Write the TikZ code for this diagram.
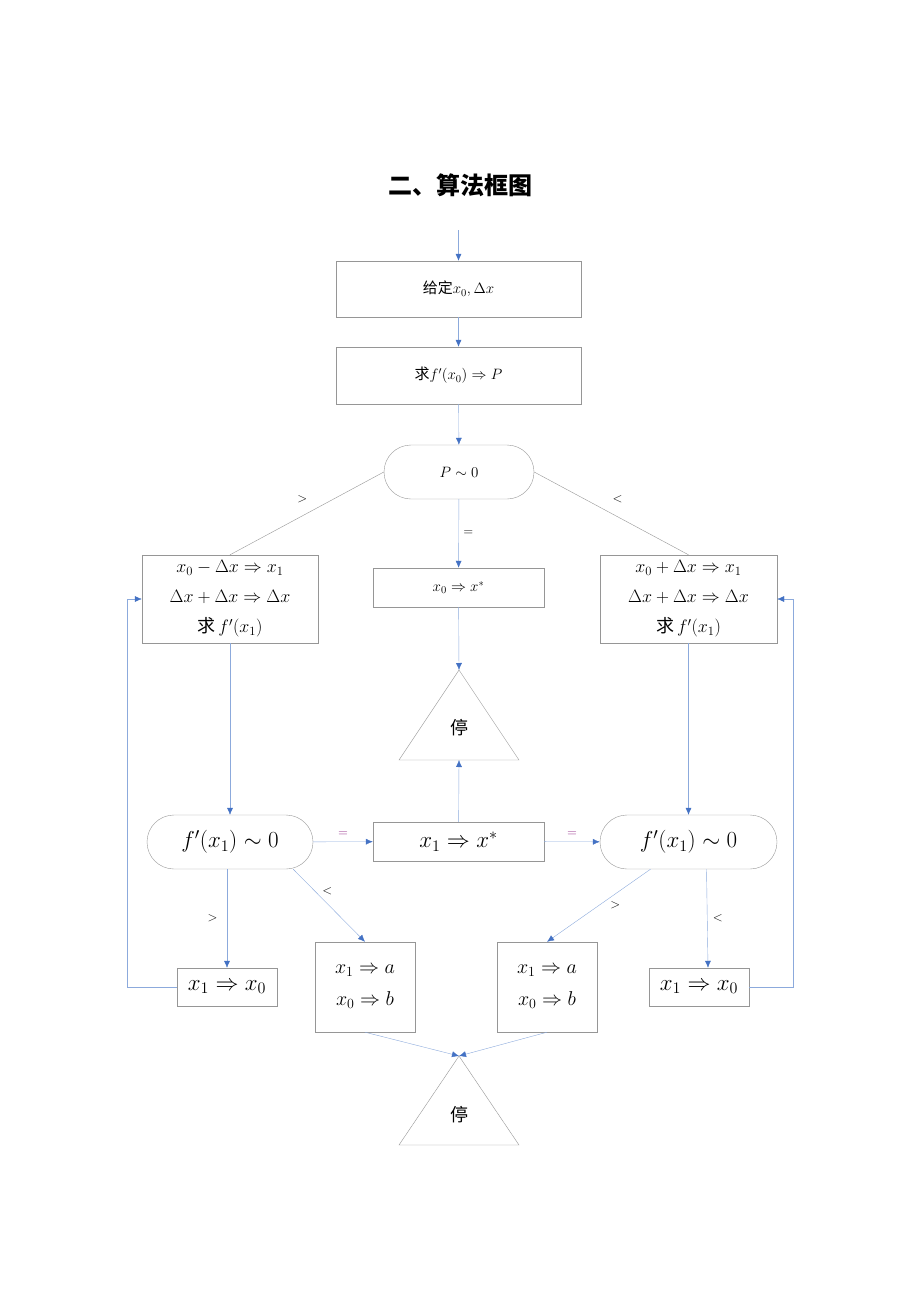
\RequirePackage{fix-cm}
\documentclass[tikz,border=0pt]{standalone}
\usepackage{amsmath,amssymb}
\usepackage{fontspec}
\newfontfamily\cjk{Noto Sans CJK SC}
\usetikzlibrary{arrows.meta}

\definecolor{boxgray}{RGB}{150,150,150}
\definecolor{linkblue}{RGB}{140,170,220}
\definecolor{tipblue}{RGB}{68,114,196}
\definecolor{eqpink}{RGB}{150,50,140}

\begin{document}
\begin{tikzpicture}[x=1pt,y=-1pt,
    box/.style={draw=boxgray, inner sep=0pt, align=center},
    roundbox/.style={box, rounded corners=27pt},
    flow/.style={draw=linkblue, -{Latex[length=7pt,width=6pt,color=tipblue]}},
    branch/.style={draw=boxgray},
    small/.style={font=\fontsize{15}{18}\selectfont},
    mid/.style={font=\fontsize{18}{30}\selectfont},
    big/.style={font=\fontsize{23}{28}\selectfont},
    tag/.style={font=\fontsize{13}{15}\selectfont}]
    \useasboundingbox (0,0) rectangle (920,1300);

    % Title
    \node[font=\fontsize{24}{28}\selectfont\cjk\bfseries] (title) at (460,185) {二、算法框图};

    % Start
    \coordinate (start) at (458.5,230);
    \node[box, small, minimum width=245pt, minimum height=56pt] (given) at (458.5,289) {{\cjk 给定}$x_0,\Delta x$};
    \node[box, small, minimum width=245pt, minimum height=57pt] (slope) at (458.5,375.5) {{\cjk 求}$f'(x_0)\Rightarrow P$};
    \node[roundbox, small, minimum width=150pt, minimum height=54pt] (ptest) at (459,472) {$P\sim 0$};

    % First step boxes
    \node[box, mid, minimum width=176pt, minimum height=88pt] (stepL) at (230,599)
        {$x_0-\Delta x\Rightarrow x_1$\\ $\Delta x+\Delta x\Rightarrow \Delta x$\\ {\cjk 求}$\,f'(x_1)$};
    \node[box, small, minimum width=171pt, minimum height=39pt] (xstarA) at (458.5,587.5) {$x_0\Rightarrow x^*$};
    \node[box, mid, minimum width=177pt, minimum height=88pt] (stepR) at (688.5,599)
        {$x_0+\Delta x\Rightarrow x_1$\\ $\Delta x+\Delta x\Rightarrow \Delta x$\\ {\cjk 求}$\,f'(x_1)$};

    % Stop 1
    \coordinate (top1) at (459,670);
    \coordinate (base1) at (459,760);
    \draw[boxgray] (top1) -- (399,760) -- (519,760) -- cycle;
    \node[font=\fontsize{18}{20}\selectfont\cjk] (stop1) at (459,728) {停};

    % Second tests
    \node[roundbox, big, minimum width=166pt, minimum height=54pt] (testL) at (230,842) {$f'(x_1)\sim 0$};
    \node[box, big, minimum width=171pt, minimum height=39pt] (xstarB) at (458.5,841.5) {$x_1\Rightarrow x^*$};
    \node[roundbox, big, minimum width=177pt, minimum height=54pt] (testR) at (688.5,842) {$f'(x_1)\sim 0$};

    % Bottom boxes
    \node[box, big, minimum width=100pt, minimum height=38pt] (swapL) at (227,987) {$x_1\Rightarrow x_0$};
    \node[box, font=\fontsize{20}{32}\selectfont, minimum width=100pt, minimum height=90pt] (abL) at (365,987) {$x_1\Rightarrow a$\\ $x_0\Rightarrow b$};
    \node[box, font=\fontsize{20}{32}\selectfont, minimum width=100pt, minimum height=90pt] (abR) at (547,987) {$x_1\Rightarrow a$\\ $x_0\Rightarrow b$};
    \node[box, big, minimum width=100pt, minimum height=38pt] (swapR) at (699,987) {$x_1\Rightarrow x_0$};

    % Stop 2
    \coordinate (top2) at (459,1056);
    \draw[boxgray] (top2) -- (399,1145) -- (519,1145) -- cycle;
    \node[font=\fontsize{18}{20}\selectfont\cjk] (stop2) at (459,1115) {停};

    % Main line
    \draw[flow] (start) -- (given);
    \draw[flow] (given) -- (slope);
    \draw[flow] (slope) -- (ptest);

    % Branches of P
    \draw[branch] (ptest.west) -- (stepL.north) node[tag, pos=0.53, above=10pt, black] {$>$};
    \draw[branch] (ptest.east) -- (stepR.north) node[tag, pos=0.54, above=10pt, black] {$<$};
    \draw[flow] (ptest) -- (xstarA) node[tag, midway, right=1pt, black] {$=$};
    \draw[flow] (xstarA) -- (top1);

    \draw[flow] (stepL) -- (testL);
    \draw[flow] (stepR) -- (testR);
    \draw[flow] (xstarB) -- (base1);
    \draw[flow] (testL) -- (xstarB) node[tag, midway, above=2pt, eqpink] {$=$};
    \draw[flow] (xstarB) -- (testR) node[tag, midway, above=2pt, eqpink] {$=$};

    % Branches of f'(x_1)
    \draw[flow] (swapL.north |- testL.south) -- (swapL.north) node[tag, midway, left=6pt, black] {$>$};
    \draw[flow] ([xshift=-20pt]testL.south east) -- (abL.north) node[tag, pos=0.3, right=4pt, black] {$<$};
    \draw[flow] ([xshift=-38pt]testR.south) -- (abR.north) node[tag, pos=0.5, right=8pt, black] {$>$};
    \draw[flow] ([xshift=18pt]testR.south) -- ([xshift=9pt]swapR.north) node[tag, midway, right=2pt, black] {$<$};

    % Loops back
    \draw[flow] (swapL.west) -- ++(-50,0) |- (stepL.west);
    \draw[flow] (swapR.east) -- ++(44,0) |- (stepR.east);

    % To stop 2
    \draw[flow] (abL.south) -- (top2);
    \draw[flow] (abR.south) -- (top2);
\end{tikzpicture}
\end{document}
